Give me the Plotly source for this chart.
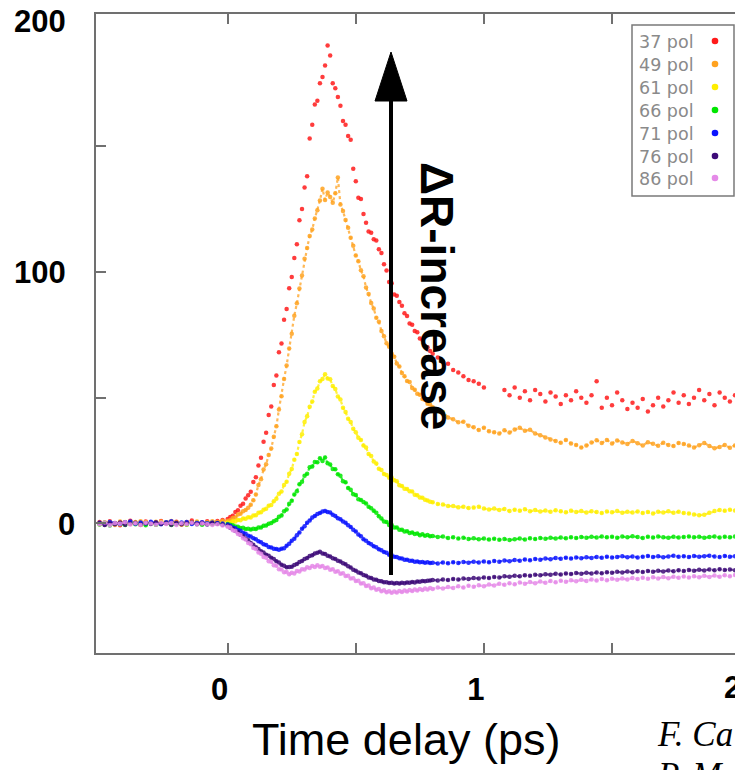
import numpy as np
import plotly.graph_objects as go

# ---------------- data ----------------
t_pre = np.round(np.arange(-0.50, -0.01, 0.02), 2)   # 25 points
t_mid = np.round(np.arange(0.00, 0.795, 0.01), 2)    # 80 points
t_post = np.round(np.arange(0.80, 1.99, 0.02), 2)    # 60 points
time_ps = np.concatenate([t_pre, t_mid, t_post])

legend_labels = ["37 pol", "49 pol", "61 pol", "66 pol", "71 pol", "76 pol", "86 pol"]

pol37 = [0.6, -0.4, 0.9, 0.2, -0.7, 0.5, 1.1, 0.0, -0.5, 0.8, 0.3, -0.2, 1.0, 0.4, -0.1, 0.7, -0.3, 0.5, 1.2, 0.2, 0.4, 0.9, 0.3, 1.0, 1.4,
         1.8, 2.6, 3.1, 4.5, 5.2, 7.0, 7.8, 9.9, 11.2, 12.6,
         16.5, 18.4, 23.0, 26.1, 32.5, 36.0, 43.1, 46.5, 55.0, 58.8,
         68.0, 71.5, 81.0, 85.2, 93.5, 98.0, 105.5, 111.0, 120.5, 125.0,
         133.5, 138.0, 153.0, 158.5, 166.5, 168.0, 175.0, 177.5, 182.0, 190.0,
         186.0, 175.0, 173.0, 169.5, 166.0, 160.0, 158.5, 154.0, 152.5, 141.0,
         136.0, 129.5, 129.0, 123.0, 119.5, 116.0, 115.5, 113.0, 112.5, 109.0,
         107.5, 103.0, 100.5, 96.0, 95.5, 91.0, 90.5, 88.0, 86.5, 83.5,
         82.5, 79.5, 79.0, 76.5, 76.0, 73.5, 73.0, 70.5, 70.0, 68.5,
         67.5, 66.0, 64.5, 63.5, 61.0, 60.0, 58.5, 57.0, 56.5, 55.5,
         54.0, None, None, None, 53.0, 51.0, 54.0, 50.0, 52.5, 49.0,
         53.0, 51.5, 48.5, 52.0, 50.5, 47.5, 51.0, 49.0, 52.5, 50.0,
         48.0, 51.0, 56.5, 46.0, 50.0, 47.0, 52.0, 49.0, 45.5, 48.0,
         46.0, 49.5, 44.5, 47.0, 50.0, 46.5, 49.0, 52.0, 48.0, 51.0,
         47.5, 50.0, 53.0, 49.0, 51.5, 47.0, 52.0, 50.0, 48.5, 51.0]

pol49 = [-0.3, 0.5, 0.2, -0.6, 0.8, 0.1, -0.2, 0.6, 0.9, -0.4, 0.3, 0.7, -0.1, 0.4, 1.0, 0.2, -0.5, 0.6, 0.3, 0.8, 0.1, 0.5, 0.9, 0.6, 1.1,
         1.0, 1.4, 2.2, 2.4, 3.6, 3.9, 4.8, 5.3, 6.2, 7.4,
         9.2, 11.5, 15.3, 17.6, 21.4, 23.5, 27.2, 29.8, 34.5, 38.6,
         45.3, 50.6, 57.4, 62.8, 69.5, 75.4, 82.6, 87.5, 93.4, 98.6,
         105.2, 109.5, 114.3, 116.8, 121.2, 124.5, 128.4, 133.0, 128.6, 131.5,
         129.8, 127.5, 131.2, 137.5, 126.8, 124.2, 120.6, 117.5, 113.6, 110.4,
         106.5, 104.2, 100.6, 98.3, 93.8, 91.2, 87.6, 85.4, 81.8, 80.2,
         76.5, 74.4, 71.6, 70.2, 67.5, 66.3, 63.6, 62.4, 59.8, 58.5,
         56.6, 56.2, 53.8, 53.1, 51.6, 51.2, 49.5, 49.2, 47.6, 47.3,
         46.2, 45.0, 44.3, 42.1, 41.4, 40.2, 40.4, 38.8, 38.2, 37.1,
         38.0, 36.6, 36.2, 35.8, 37.0, 36.1, 37.3, 38.0, 36.8, 37.2,
         35.8, 35.1, 34.2, 33.4, 32.8, 32.1, 33.2, 31.8, 31.2, 30.2,
         31.0, 32.2, 33.1, 32.0, 33.2, 31.8, 33.0, 32.2, 31.6, 32.8,
         31.9, 31.0, 32.3, 31.7, 30.9, 32.1, 31.2, 30.8, 32.0, 31.6,
         31.0, 30.2, 31.1, 32.0, 30.8, 29.9, 30.4, 31.2, 30.1, 31.0]

pol61 = [0.2, -0.5, 0.4, 0.0, -0.3, 0.6, -0.1, 0.3, -0.6, 0.5, 0.1, -0.4, 0.7, 0.0, -0.2, 0.4, 0.2, -0.5, 0.3, 0.6, -0.1, 0.2, 0.5, 0.0, 0.3,
         0.4, 0.3, 0.9, 0.8, 1.4, 1.3, 2.0, 1.9, 2.5, 2.4,
         3.2, 3.3, 4.2, 4.4, 5.4, 5.8, 7.0, 7.3, 8.8, 9.8,
         11.8, 12.7, 15.3, 16.6, 19.8, 21.6, 25.3, 27.6, 32.4, 35.5,
         40.3, 42.6, 46.4, 48.5, 52.3, 53.6, 56.5, 57.4, 59.3, 57.6,
         57.3, 54.6, 53.4, 50.5, 49.3, 46.0, 44.3, 41.6, 40.3, 37.6,
         36.2, 34.1, 33.2, 31.0, 30.2, 27.6, 26.8, 24.6, 23.8, 21.7,
         21.2, 19.7, 19.3, 18.2, 18.3, 17.2, 16.8, 15.2, 14.9, 13.8,
         13.7, 12.8, 12.7, 11.4, 11.2, 10.3, 10.2, 9.4, 9.1, 8.6,
         8.4, 7.7, 7.5, 6.9, 6.9, 6.4, 6.6, 6.1, 6.3, 6.6,
         5.9, 5.5, 5.9, 5.3, 5.7, 4.9, 5.4, 5.0, 5.6, 4.8,
         5.3, 4.7, 5.1, 4.6, 5.2, 4.8, 4.4, 5.0, 4.5, 4.9,
         4.3, 4.8, 4.5, 4.1, 4.7, 4.4, 4.9, 4.2, 4.6, 4.3,
         4.7, 4.1, 4.5, 4.0, 4.6, 4.3, 4.8, 4.2, 4.6, 4.1,
         4.0, 3.6, 3.3, 3.5, 4.2, 4.9, 5.3, 5.0, 5.4, 5.1]

pol66 = [-0.4, 0.3, -0.8, 0.1, -0.2, -0.6, 0.4, -0.3, 0.0, -0.7, 0.2, -0.5, -0.1, 0.3, -0.6, -0.2, 0.1, -0.4, 0.2, -0.3, -0.5, 0.0, -0.2, 0.1, -0.3,
         -0.2, -0.5, -0.7, -1.2, -1.3, -1.8, -1.7, -2.2, -2.1, -2.4,
         -2.1, -2.2, -1.6, -1.6, -0.9, -0.8, -0.1, 0.2, 0.9, 1.4,
         2.7, 3.2, 4.8, 5.5, 7.8, 9.0, 11.5, 12.8, 15.6, 16.6,
         19.0, 19.8, 22.3, 22.6, 24.4, 24.3, 25.9, 24.8, 26.2, 23.9,
         23.4, 21.6, 21.5, 19.6, 19.0, 16.8, 16.4, 14.1, 13.4, 11.6,
         11.3, 9.6, 9.3, 8.5, 7.9, 6.6, 6.0, 5.0, 4.2, 2.9,
         2.0, 0.8, 0.6, -0.6, -0.6, -1.6, -1.6, -2.5, -2.5, -3.2,
         -3.1, -3.8, -3.6, -4.2, -4.0, -4.7, -4.3, -4.9, -4.6, -5.1,
         -5.0, -5.4, -5.2, -5.8, -5.5, -6.0, -5.7, -6.2, -5.9, -6.3,
         -6.0, -6.4, -6.1, -6.5, -6.2, -6.6, -6.3, -6.0, -6.4, -5.9,
         -6.2, -5.8, -6.1, -5.7, -6.0, -5.6, -5.9, -5.5, -5.8, -5.4,
         -5.7, -5.3, -5.6, -5.2, -5.5, -5.3, -5.7, -5.2, -5.5, -5.1,
         -5.4, -5.8, -5.3, -5.6, -5.2, -5.5, -5.7, -5.3, -5.6, -5.4,
         -5.2, -5.5, -5.3, -5.7, -5.4, -5.2, -5.6, -5.3, -5.5, -5.2]

pol71 = [0.3, -0.4, 0.6, 0.1, -0.2, 0.5, 0.8, -0.1, 0.4, 0.0, 0.7, 0.2, -0.3, 0.5, 0.9, 0.1, 0.4, 0.6, -0.2, 0.3, 0.5, 0.1, 0.4, 0.2, 0.0,
         -0.4, -0.9, -1.6, -1.9, -2.6, -2.9, -3.7, -4.1, -4.9, -5.2,
         -5.9, -6.3, -7.1, -7.5, -8.3, -8.6, -9.4, -9.6, -10.1, -10.2,
         -10.5, -10.1, -9.9, -8.9, -8.1, -6.9, -6.1, -4.7, -3.6, -2.1,
         -1.1, 0.3, 1.2, 2.4, 3.0, 3.8, 4.1, 4.7, 4.9, 4.5,
         4.3, 3.5, 3.0, 2.1, 1.7, 0.8, 0.3, -0.7, -1.4, -2.5,
         -3.2, -4.4, -5.1, -6.3, -6.9, -7.8, -8.3, -9.1, -9.5, -10.3,
         -10.7, -11.4, -11.7, -12.4, -12.6, -13.2, -13.3, -13.8, -13.9, -14.4,
         -14.4, -14.8, -14.8, -15.2, -15.1, -15.4, -15.3, -15.6, -15.4, -15.7,
         -15.6, -15.9, -15.5, -15.8, -15.4, -15.7, -15.3, -15.6, -15.2, -15.5,
         -15.1, -15.4, -14.9, -15.2, -14.7, -15.0, -14.5, -14.8, -14.3, -14.6,
         -14.1, -14.4, -13.9, -14.2, -13.7, -14.0, -13.6, -13.9, -13.5, -13.8,
         -13.4, -13.7, -13.3, -13.6, -13.2, -13.5, -13.3, -13.0, -13.4, -13.1,
         -13.5, -13.2, -12.9, -13.3, -13.0, -13.4, -13.1, -12.8, -13.2, -13.0,
         -13.3, -12.9, -13.2, -13.0, -12.8, -13.1, -13.3, -12.9, -13.2, -13.0]

pol76 = [0.2, -0.6, 0.1, -0.3, 0.4, -0.5, 0.0, 0.3, -0.4, 0.2, -0.2, 0.5, -0.1, 0.1, -0.5, 0.3, -0.3, 0.0, 0.4, -0.2, 0.1, -0.4, 0.2, -0.1, -0.5,
         -0.9, -1.7, -2.1, -3.0, -3.5, -4.5, -5.1, -6.1, -6.7, -7.8,
         -8.5, -9.5, -10.2, -11.1, -11.6, -12.4, -12.8, -13.6, -14.1, -15.0,
         -15.5, -16.4, -16.8, -17.4, -17.3, -17.2, -16.5, -16.1, -15.3, -14.9,
         -14.1, -13.7, -12.9, -12.6, -11.9, -11.7, -11.3, -11.9, -12.1, -12.8,
         -13.1, -13.8, -14.1, -14.8, -15.1, -15.8, -16.2, -17.0, -17.5, -18.4,
         -18.8, -19.5, -19.8, -20.5, -20.8, -21.5, -21.7, -22.3, -22.4, -22.9,
         -23.0, -23.4, -23.4, -23.7, -23.6, -23.9, -23.7, -23.9, -23.6, -23.8,
         -23.5, -23.6, -23.3, -23.5, -23.1, -23.2, -22.9, -23.0, -22.8, -22.7,
         -22.5, -22.7, -22.3, -22.5, -22.1, -22.3, -21.9, -22.1, -21.7, -21.9,
         -21.5, -21.7, -21.3, -21.5, -21.0, -21.2, -20.8, -21.0, -20.6, -20.8,
         -20.4, -20.6, -20.2, -20.4, -20.0, -20.3, -19.9, -20.1, -19.7, -20.0,
         -19.6, -19.9, -19.5, -19.8, -19.4, -19.6, -19.2, -19.5, -19.1, -19.4,
         -19.0, -19.3, -18.9, -19.2, -18.8, -19.1, -18.7, -19.0, -18.6, -18.9,
         -18.5, -18.8, -18.4, -18.7, -18.3, -18.6, -18.2, -18.5, -18.3, -18.6]

pol86 = [-0.3, 0.4, -0.7, 0.2, -0.1, 0.5, -0.4, 0.1, -0.6, 0.3, 0.0, -0.5, 0.4, -0.2, 0.2, -0.6, 0.1, -0.3, 0.3, -0.4, 0.0, -0.2, -0.6, -0.3, -0.8,
         -1.3, -1.6, -2.7, -3.0, -4.2, -4.6, -5.9, -6.4, -7.8, -8.3,
         -9.8, -10.2, -11.6, -12.0, -13.3, -13.6, -15.0, -15.2, -16.6, -16.8,
         -18.2, -18.3, -19.4, -19.3, -20.2, -19.6, -19.9, -18.9, -19.1, -18.2,
         -18.3, -17.4, -17.7, -16.9, -17.3, -16.6, -17.2, -16.9, -17.7, -17.5,
         -18.4, -18.2, -19.2, -19.0, -20.0, -19.8, -20.9, -20.8, -21.9, -21.8,
         -22.9, -22.8, -23.9, -23.8, -24.9, -24.7, -25.8, -25.5, -26.4, -26.1,
         -27.0, -26.6, -27.4, -27.0, -27.6, -27.1, -27.5, -26.9, -27.3, -26.7,
         -27.1, -26.5, -26.9, -26.3, -26.7, -26.1, -26.5, -25.9, -26.3, -25.7,
         -26.1, -25.5, -25.9, -25.3, -25.7, -25.0, -25.5, -24.8, -25.2, -24.6,
         -25.0, -24.3, -24.7, -24.0, -24.4, -23.8, -24.2, -23.5, -24.0, -23.3,
         -23.8, -23.1, -23.6, -22.9, -23.4, -22.8, -23.2, -22.6, -23.0, -22.4,
         -22.9, -22.3, -22.7, -22.1, -22.6, -22.0, -22.4, -21.9, -22.3, -21.7,
         -22.1, -21.6, -22.0, -21.4, -21.9, -21.3, -21.8, -21.2, -21.6, -21.1,
         -21.5, -21.0, -21.4, -20.8, -21.3, -20.7, -21.2, -20.6, -21.0, -20.5]

x_tick_vals = [0, 0.5, 1, 1.5, 2]
x_tick_text = ["0", "", "1", "", "2"]
y_tick_vals = [0, 50, 100, 150, 200]
y_tick_text = ["0", "", "100", "", "200"]

series = [pol37, pol49, pol61, pol66, pol71, pol76, pol86]
colors = ["#ff1a1a", "#ffa21f", "#ffee00", "#00e600", "#0a14ff", "#3d0b78", "#e58ae8"]

for s in series:
    assert len(s) == len(time_ps), len(s)

# ---------------- figure ----------------
X_RANGE = [-0.514, 1.98]
Y_RANGE = [-51.5, 202.5]
L, T, W, H = 96, 14, 639, 639


def px(xp):
    return (xp - L) / W


def py(yp):
    return (T + H - yp) / H


fig = go.Figure()
for i, (name, vals, col) in enumerate(zip(legend_labels, series, colors)):
    if i > 0:
        fig.add_trace(go.Scatter(x=time_ps, y=vals, mode="lines", name=name, showlegend=False,
                                 line=dict(color=col, width=2.2, dash="dot"), opacity=0.75,
                                 hoverinfo="skip"))
    fig.add_trace(go.Scatter(x=time_ps, y=vals, mode="markers", name=name,
                             marker=dict(size=4.5, color=col, opacity=0.85, line=dict(width=0)),
                             showlegend=False))

axis_col = "#707070"
tick_font = dict(family="Liberation Sans, Arial, sans-serif", size=31, color="black", weight="bold")

fig.update_xaxes(range=X_RANGE, showline=True, linecolor=axis_col, linewidth=1.6,
                 mirror="ticks", ticks="inside", ticklen=10, tickwidth=1.5, tickcolor=axis_col,
                 tickvals=x_tick_vals, ticktext=x_tick_text, tickfont=tick_font,
                 ticklabelstandoff=8, ticklabelshift=-8,
                 showgrid=False, zeroline=False)
fig.update_yaxes(range=Y_RANGE, showline=True, linecolor=axis_col, linewidth=1.6,
                 mirror=False, ticks="inside", ticklen=10, tickwidth=1.5, tickcolor=axis_col,
                 tickvals=y_tick_vals[:-1], showticklabels=False,
                 showgrid=False, zeroline=False)

annotations = []
# y tick labels
y_shift = {"200": -28, "100": -28, "0": -19}
for v, txt in zip(y_tick_vals, y_tick_text):
    if txt:
        annotations.append(dict(x=0, xref="paper", y=v, yref="y", text=txt, showarrow=False,
                                xanchor="right", yanchor="middle", xshift=y_shift[txt], yshift=-1,
                                font=tick_font))
# x tick label "2" falls just beyond the visible plot edge
x2 = (x_tick_vals[-1] - X_RANGE[0]) / (X_RANGE[1] - X_RANGE[0])
annotations.append(dict(x=x2, xref="paper", y=py(688), yref="paper", text=x_tick_text[-1],
                        showarrow=False, xanchor="center", yanchor="middle", xshift=-8,
                        font=tick_font))

# axis title
annotations.append(dict(x=px(406), xref="paper", y=py(739), yref="paper", text="Time delay (ps)",
                        showarrow=False, xanchor="center", yanchor="middle",
                        font=dict(family="Liberation Sans, Arial, sans-serif", size=45, color="black")))

# arrow label
annotations.append(dict(x=px(437), xref="paper", y=py(296), yref="paper", text="ΔR-increase",
                        showarrow=False, textangle=90, xanchor="center", yanchor="middle",
                        font=dict(family="Liberation Sans, Arial, sans-serif", size=46, color="black",
                                  weight="bold")))

# citation text (cut off by the picture edge)
cite_font = dict(family="Liberation Serif, Times New Roman, serif", size=35, color="black", style="italic")
annotations.append(dict(x=px(655), xref="paper", y=py(734), yref="paper", text="F. Ca",
                        showarrow=False, xanchor="left", yanchor="middle", font=cite_font))
annotations.append(dict(x=px(655), xref="paper", y=py(776), yref="paper", text="P. M",
                        showarrow=False, xanchor="left", yanchor="middle", font=cite_font))

# legend
leg_y = [42, 65, 88, 111, 134, 157, 179]
shapes = [dict(type="rect", xref="paper", yref="paper", x0=px(632), x1=px(734), y0=py(196), y1=py(25),
               line=dict(color="#7a7a7a", width=1.5), fillcolor="white", layer="above")]
for lab, col, yy in zip(legend_labels, colors, leg_y):
    annotations.append(dict(x=px(637), xref="paper", y=py(yy), yref="paper", text=lab, showarrow=False,
                            xanchor="left", yanchor="middle",
                            font=dict(family="DejaVu Sans, sans-serif", size=17.5, color="#8a8a8a")))
    r = 3.3 / W
    shapes.append(dict(type="circle", xref="paper", yref="paper", x0=px(715) - r, x1=px(715) + r,
                       y0=py(yy - 1) - r, y1=py(yy - 1) + r, line=dict(width=0), fillcolor=col,
                       layer="above"))

# big arrow
shapes.append(dict(type="line", xref="paper", yref="paper", x0=px(391), x1=px(391), y0=py(575), y1=py(98),
                   line=dict(color="black", width=4), layer="above"))
shapes.append(dict(type="path", xref="paper", yref="paper",
                   path=f"M {px(375)},{py(101)} L {px(391)},{py(52)} L {px(407)},{py(101)} Z",
                   fillcolor="black", line=dict(color="black", width=1), layer="above"))

fig.update_layout(width=735, height=770, margin=dict(l=L, r=0, t=T, b=770 - T - H),
                  paper_bgcolor="white", plot_bgcolor="white", showlegend=False,
                  annotations=annotations, shapes=shapes)

fig.write_html("out.html", config={"displayModeBar": False},
               post_script="document.body.style.margin='0px';")
